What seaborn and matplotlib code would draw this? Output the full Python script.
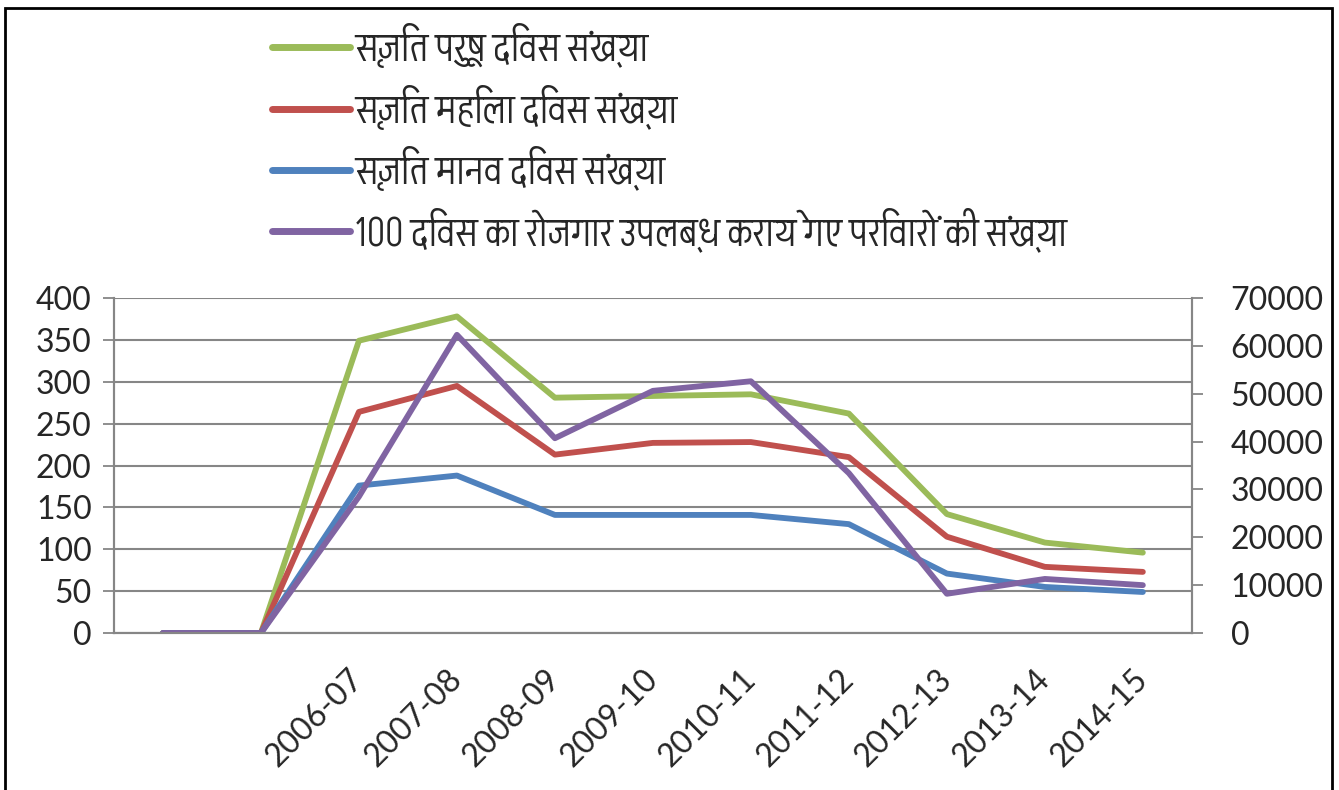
import numpy as np
import pandas as pd
import matplotlib
matplotlib.use("Agg")
import matplotlib.pyplot as plt
import seaborn as sns
from matplotlib import font_manager
from matplotlib.ft2font import FT2Font
from matplotlib.patches import Rectangle
from matplotlib.lines import Line2D

# Dati
anni = ["", "", "2006-07", "2007-08", "2008-09", "2009-10", "2010-11",
        "2011-12", "2012-13", "2013-14", "2014-15"]
uomini = [0, 0, 349, 378, 281, 283, 285, 262, 142, 108, 96]
donne = [0, 0, 264, 295, 213, 227, 228, 210, 115, 79, 73]
persone = [0, 0, 176, 188, 141, 141, 141, 130, 71, 55, 49]
famiglie_100 = [0, 0, 28500, 62300, 40700, 50600, 52600, 33400, 8200, 11300, 10000]

etichette = ["सृजित पुरूष दिवस संख्या",
             "सृजित महिला दिवस संख्या",
             "सृजित मानव दिवस संख्या",
             "100 दिवस का रोजगार उपलब्ध कराये गए परिवारों की संख्या"]
colori = ["#9BBB59", "#C0504D", "#4F81BD", "#8064A2"]

# Tema
sns.set_style("white")

# Cerco un font con i caratteri Devanagari (meglio se non monospace)
candidati = []
for f in font_manager.fontManager.ttflist:
    try:
        if 0x0915 in FT2Font(f.fname).get_charmap():
            candidati.append(f.name)
    except Exception:
        pass
candidati = sorted(set(candidati), key=lambda n: ("mono" in n.lower(), "serif" in n.lower(), n))
font_hindi = candidati[0] if candidati else None

plt.rcParams["font.family"] = ["Lato", "DejaVu Sans"]
famiglia_legenda = [font_hindi, "Lato", "DejaVu Sans"] if font_hindi else ["Lato", "DejaVu Sans"]

df = pd.DataFrame({"pos": np.arange(len(anni)), "uomini": uomini, "donne": donne,
                   "persone": persone, "famiglie": famiglie_100})

fig = plt.figure(figsize=(13.39, 7.9), dpi=100)
ax = fig.add_axes([0.0851, 0.1987, 0.805, 0.4241])
ax2 = ax.twinx()

# Linee asse sinistro
for col, colore in zip(["uomini", "donne", "persone"], colori[:3]):
    sns.lineplot(data=df, x="pos", y=col, ax=ax, color=colore, linewidth=4.2)

# Linea asse destro
sns.lineplot(data=df, x="pos", y="famiglie", ax=ax2, color=colori[3], linewidth=4.2)

grigio = "#868686"

ax.set_xlim(-0.5, len(anni) - 0.5)
ax.set_ylim(0, 400)
ax.set_yticks(np.arange(0, 401, 50))
ax2.set_ylim(0, 70000)
ax2.set_yticks(np.arange(0, 70001, 10000))

ax.set_xticks(np.arange(len(anni)))
ax.set_xticklabels(anni, rotation=45, ha="right", va="center", rotation_mode="anchor")
ax.set_xticks(np.arange(len(anni) + 1) - 0.5, minor=True)
ax.tick_params(axis="x", which="major", length=0, pad=30, labelsize=23)
ax.tick_params(axis="x", which="minor", length=8, width=1.3, color=grigio, direction="out")
ax.tick_params(axis="y", length=8, width=1.3, color=grigio, direction="out", pad=8, labelsize=23)
ax2.tick_params(axis="y", length=8, width=1.3, color=grigio, direction="out", pad=20, labelsize=23)

ax.grid(axis="y", color=grigio, linewidth=1.5)
ax.set_axisbelow(True)
for a in (ax, ax2):
    a.set_xlabel("")
    a.set_ylabel("")
    a.spines["top"].set_visible(False)
    for s in ("left", "right", "bottom"):
        a.spines[s].set_color(grigio)
        a.spines[s].set_linewidth(1.5)

# Legenda in alto
maniglie = [Line2D([0], [0], color=c, linewidth=5) for c in colori]
fig.legend(maniglie, etichette, loc="upper left", bbox_to_anchor=(0.203, 0.969),
           frameon=False, handlelength=1.94, handletextpad=0.13,
           labelspacing=0.40, borderaxespad=0, borderpad=0,
           prop={"family": famiglia_legenda, "size": 29})

# Cornice della figura
fig.patches.append(Rectangle((0.004, -0.01), 0.991, 1.0, transform=fig.transFigure,
                             fill=False, edgecolor="black", linewidth=2))

plt.savefig("out.png", dpi=100)
